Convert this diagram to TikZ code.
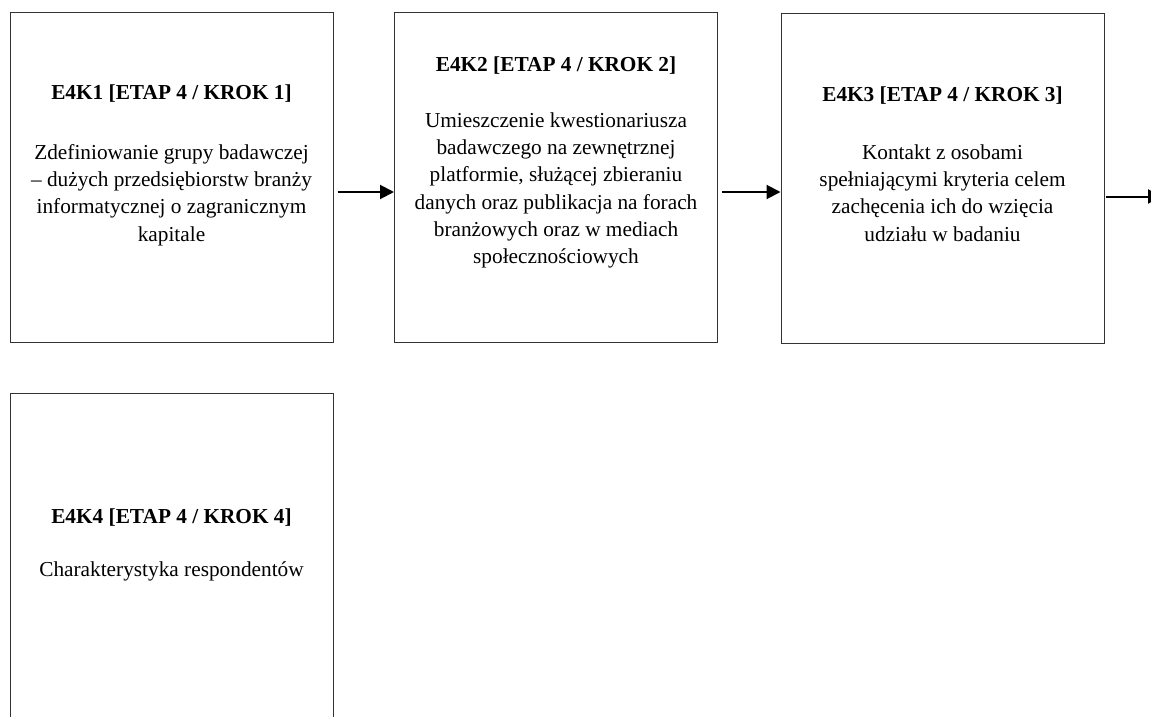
\documentclass[tikz,border=0pt]{standalone}
\usepackage{fontspec}
\setmainfont{Liberation Serif}
\usetikzlibrary{arrows.meta}
\begin{document}
\begin{tikzpicture}[x=1pt,y=-1pt,
  stepbox/.style={draw=black!80,line width=1pt,minimum width=323pt,minimum height=329pt,inner sep=0pt},
  steptext/.style={anchor=north,align=center,inner sep=0pt,font=\fontsize{21.3}{27.3}\selectfont},
  arr/.style={line width=2pt,shorten <=4pt,-{Triangle[length=14pt,width=14pt]}}]
\useasboundingbox (0,0) rectangle (1151,717);
\node[stepbox] (b1) at (171.5,177.5) {};
\node[stepbox] (b2) at (556,177.5) {};
\node[stepbox] (b3) at (942.5,178.5) {};
\node[stepbox,minimum height=330pt] (b4) at (171.5,558) {};
\node[steptext] (t1) at ([yshift=-72.5pt]b1.north) {\textbf{E4K1 [ETAP 4 / KROK 1]}\\[32pt]
Zdefiniowanie grupy badawczej\\
– dużych przedsiębiorstw branży\\
informatycznej o zagranicznym\\
kapitale};
\node[steptext] (t2) at ([yshift=-44.5pt]b2.north) {\textbf{E4K2 [ETAP 4 / KROK 2]}\\[28pt]
Umieszczenie kwestionariusza\\
badawczego na zewnętrznej\\
platformie, służącej zbieraniu\\
danych oraz publikacja na forach\\
branżowych oraz w mediach\\
społecznościowych};
\node[steptext] (t3) at ([yshift=-73.5pt]b3.north) {\textbf{E4K3 [ETAP 4 / KROK 3]}\\[30pt]
Kontakt z osobami\\
spełniającymi kryteria celem\\
zachęcenia ich do wzięcia\\
udziału w badaniu};
\node[steptext] (t4) at ([yshift=-116.5pt]b4.north) {\textbf{E4K4 [ETAP 4 / KROK 4]}\\[25pt]
Charakterystyka respondentów};
\coordinate (e) at (1162,196.5);
\draw[arr] ([yshift=-14.5pt]b1.east) -- ([yshift=-14.5pt]b2.west);
\draw[arr] ([yshift=-14.5pt]b2.east) -- ([yshift=-13.5pt]b3.west);
\draw[arr,shorten <=1pt] ([yshift=-18pt]b3.east) -- (e);
\end{tikzpicture}
\end{document}
